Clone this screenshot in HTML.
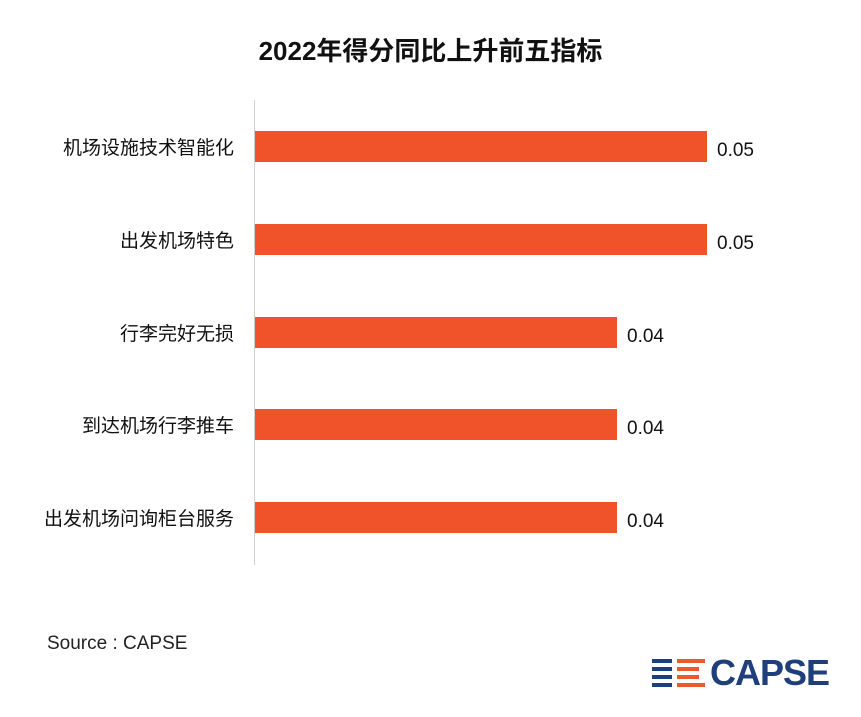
<!DOCTYPE html>
<html><head><meta charset="utf-8"><style>
body{margin:0;background:#fff;width:861px;height:717px;position:relative;overflow:hidden;font-family:"Liberation Sans","Noto Sans CJK SC",sans-serif}
.a{position:absolute}
.t{left:0;width:861px;top:31px;text-align:center;font-size:26px;font-weight:bold;color:#111}
.ax{left:254px;top:100px;width:1px;height:465px;background:#d0d0d0}
.bar{left:255px;height:31px;background:#F0522A}
.lab{right:627px;font-size:19px;color:#111;text-align:right;white-space:nowrap;line-height:24px}
.v{font-size:19px;color:#111;line-height:24px}
.s{background:#1f3f7a;height:4px}
.r{background:#ee5a2f;height:4px}
</style></head><body>
<div class="a t">2022年得分同比上升前五指标</div>
<div class="a ax"></div>
<div class="a bar" style="top:131px;width:452px"></div>
<div class="a bar" style="top:224px;width:452px"></div>
<div class="a bar" style="top:317px;width:362px"></div>
<div class="a bar" style="top:409px;width:362px"></div>
<div class="a bar" style="top:502px;width:362px"></div>
<div class="a lab" style="top:137px">机场设施技术智能化</div>
<div class="a lab" style="top:230px">出发机场特色</div>
<div class="a lab" style="top:323px">行李完好无损</div>
<div class="a lab" style="top:415px">到达机场行李推车</div>
<div class="a lab" style="top:508px">出发机场问询柜台服务</div>
<div class="a v" style="left:717px;top:139px">0.05</div>
<div class="a v" style="left:717px;top:232px">0.05</div>
<div class="a v" style="left:627px;top:325px">0.04</div>
<div class="a v" style="left:627px;top:417px">0.04</div>
<div class="a v" style="left:627px;top:510px">0.04</div>
<div class="a" style="left:47px;top:633px;font-size:19px;color:#222">Source : CAPSE</div>
<div class="a s" style="left:652px;top:659px;width:20px"></div>
<div class="a s" style="left:652px;top:667px;width:20px"></div>
<div class="a s" style="left:652px;top:675px;width:20px"></div>
<div class="a s" style="left:652px;top:683px;width:20px"></div>
<div class="a r" style="left:677px;top:659px;width:28px"></div>
<div class="a r" style="left:677px;top:667px;width:22px"></div>
<div class="a r" style="left:677px;top:675px;width:22px"></div>
<div class="a r" style="left:677px;top:683px;width:28px"></div>
<div class="a" style="left:710px;top:653px;font-size:36px;font-weight:bold;color:#1f3f7a;letter-spacing:-1px;line-height:40px">CAPSE</div>
</body></html>
